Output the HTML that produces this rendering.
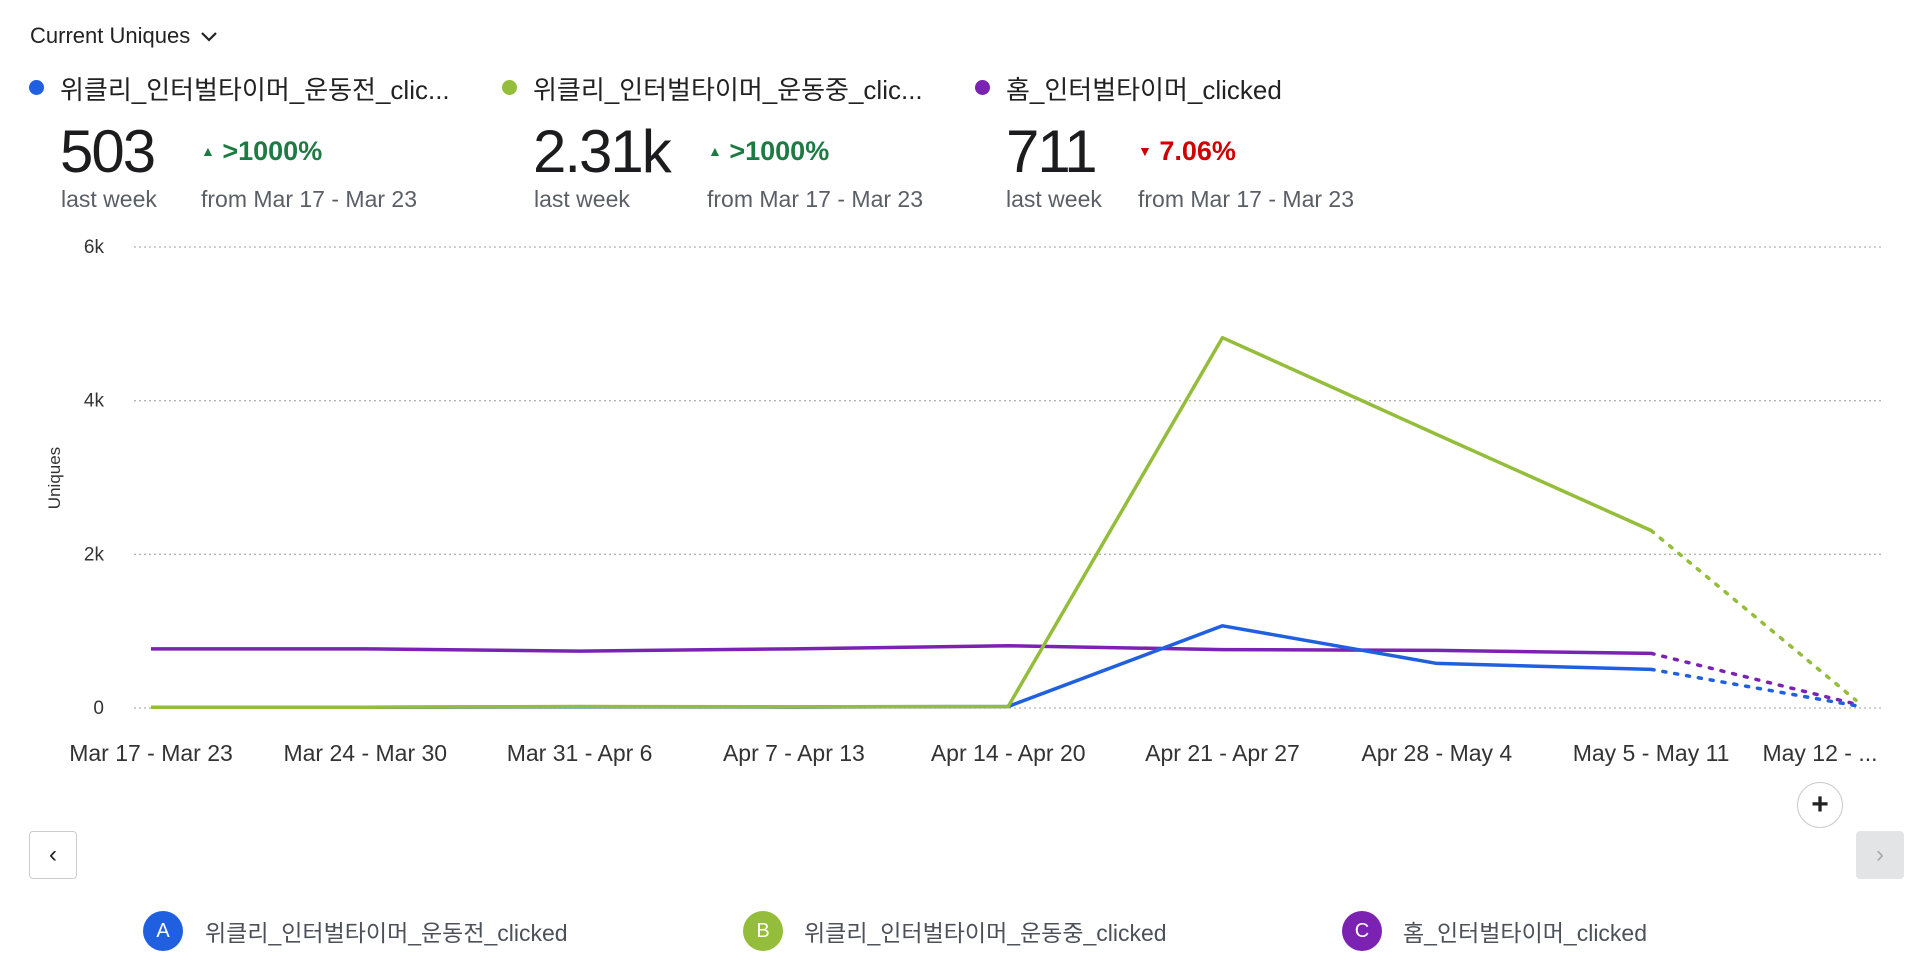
<!DOCTYPE html>
<html><head><meta charset="utf-8"><style>
body{margin:0;width:1928px;height:968px;background:#fff;font-family:"Liberation Sans","Noto Sans CJK KR",sans-serif;color:#222;position:relative;overflow:hidden}
.a{position:absolute;white-space:nowrap}
.dot{position:absolute;width:15px;height:15px;border-radius:50%}
.big{font-size:60px;color:#1c1c1f;letter-spacing:-2px;line-height:60px}
.lw{font-size:23px;color:#5a5f66}
.chg{font-size:27px;font-weight:bold}
.leg{font-size:26px;color:#222}
.bl{font-size:23px;color:#4c5159}
.circ{position:absolute;width:40px;height:40px;border-radius:50%;color:#fff;font-size:20px;text-align:center;line-height:40px}
</style></head><body>
<div class="a" style="left:30px;top:23px;font-size:22px;color:#222">Current Uniques <svg width="18" height="12" style="margin-left:4px" viewBox="0 0 18 12"><path d="M2 2 L9 9 L16 2" stroke="#222" stroke-width="2.2" fill="none"/></svg></div>

<div class="dot" style="left:29px;top:80px;background:#1f5fe0"></div>
<div class="a leg" style="left:60px;top:70px">위클리_인터벌타이머_운동전_clic...</div>
<div class="dot" style="left:502px;top:80px;background:#93bd3a"></div>
<div class="a leg" style="left:533px;top:70px">위클리_인터벌타이머_운동중_clic...</div>
<div class="dot" style="left:975px;top:80px;background:#7b22b3"></div>
<div class="a leg" style="left:1006px;top:70px">홈_인터벌타이머_clicked</div>

<div class="a big" style="left:60px;top:122px">503</div>
<div class="a big" style="left:533px;top:122px">2.31k</div>
<div class="a big" style="left:1006px;top:122px">711</div>

<div class="a chg" style="left:201px;top:136px;color:#1d7a43"><span style="font-size:14px;vertical-align:4px">▲</span> &gt;1000%</div>
<div class="a chg" style="left:708px;top:136px;color:#1d7a43"><span style="font-size:14px;vertical-align:4px">▲</span> &gt;1000%</div>
<div class="a chg" style="left:1138px;top:136px;color:#d10000"><span style="font-size:14px;vertical-align:4px">▼</span> 7.06%</div>

<div class="a lw" style="left:61px;top:186px">last week</div>
<div class="a lw" style="left:201px;top:186px">from Mar 17 - Mar 23</div>
<div class="a lw" style="left:534px;top:186px">last week</div>
<div class="a lw" style="left:707px;top:186px">from Mar 17 - Mar 23</div>
<div class="a lw" style="left:1006px;top:186px">last week</div>
<div class="a lw" style="left:1138px;top:186px">from Mar 17 - Mar 23</div>

<svg id="chart" width="1928" height="800" style="position:absolute;left:0;top:0"></svg>

<div class="a" style="left:1797px;top:782px;width:44px;height:44px;border:1.5px solid #ccc;border-radius:50%;text-align:center;line-height:44px;font-size:30px;font-weight:bold;color:#222;background:#fff">+</div>
<div class="a" style="left:29px;top:831px;width:46px;height:46px;border:1.5px solid #ccc;border-radius:4px;text-align:center;line-height:46px;font-size:24px;color:#222">‹</div>
<div class="a" style="left:1856px;top:831px;width:48px;height:48px;background:#e3e4e6;border-radius:4px;text-align:center;line-height:48px;font-size:24px;color:#aaa">›</div>

<div class="circ" style="left:143px;top:911px;background:#1f5fe0">A</div>
<div class="a bl" style="left:205px;top:914px">위클리_인터벌타이머_운동전_clicked</div>
<div class="circ" style="left:743px;top:911px;background:#93bd3a">B</div>
<div class="a bl" style="left:804px;top:914px">위클리_인터벌타이머_운동중_clicked</div>
<div class="circ" style="left:1342px;top:911px;background:#7b22b3">C</div>
<div class="a bl" style="left:1403px;top:914px">홈_인터벌타이머_clicked</div>

<script>
const categories=["Mar 17 - Mar 23","Mar 24 - Mar 30","Mar 31 - Apr 6","Apr 7 - Apr 13","Apr 14 - Apr 20","Apr 21 - Apr 27","Apr 28 - May 4","May 5 - May 11","May 12 - ..."];
const seriesA=[10,10,15,12,20,1070,580,503,30];
const seriesB=[10,10,20,15,20,4820,3560,2310,100];
const seriesC=[770,770,740,770,810,760,750,711,50];
const yTicks=[0,2000,4000,6000];
const yTickLabels=["0","2k","4k","6k"];
const NS="http://www.w3.org/2000/svg";
const svg=document.getElementById('chart');
const x=i=>i<8?151+i*214.3:1856;
const y=v=>708-v*(461/6000);
function mk(t,a){const e=document.createElementNS(NS,t);for(const k in a)e.setAttribute(k,a[k]);svg.appendChild(e);return e;}
yTicks.forEach((v,i)=>{
  const g=mk('line',{x1:134,x2:1882,y1:y(v),y2:y(v),stroke:'#b5b5b5','stroke-width':1.3,'stroke-dasharray':'2 3'});
  
  
  const t=mk('text',{x:104,y:y(v)+6,'text-anchor':'end','font-size':19,fill:'#333','font-family':'Liberation Sans'});
  t.textContent=yTickLabels[i];
  
  
});
const yt=mk('text',{x:0,y:0,transform:'translate(60,478) rotate(-90)','text-anchor':'middle','font-size':17,fill:'#333','font-family':'Liberation Sans'});
yt.textContent='Uniques';


categories.forEach((c,i)=>{
  const cx=i<8?x(i):1820;
  const t=mk('text',{x:cx,y:761,'text-anchor':'middle','font-size':23,fill:'#333','font-family':'Liberation Sans'});
  t.textContent=c;
  
  
});
[[seriesC,'#7b22b3','c'],[seriesA,'#1f5fe0','a'],[seriesB,'#93bd3a','b']].forEach(([d,col,n])=>{
  const pts=d.slice(0,8).map((v,i)=>x(i)+','+y(v)).join(' ');
  const l=mk('polyline',{points:pts,fill:'none',stroke:col,'stroke-width':3.5,'stroke-linejoin':'round'});
  
  
  const dl=mk('line',{x1:x(7),y1:y(d[7]),x2:x(8),y2:y(d[8]),stroke:col,'stroke-width':3.5,'stroke-dasharray':'3 9','stroke-linecap':'round'});
  
  
});
</script>
</body></html>
